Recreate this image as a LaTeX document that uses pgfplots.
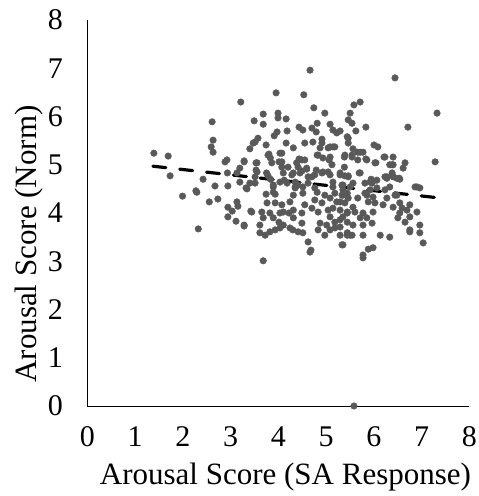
\documentclass[border=0pt]{standalone}
\usepackage{fontspec}
\setmainfont{Liberation Serif}
\usepackage{pgfplots}
\pgfplotsset{compat=1.18}
\definecolor{ptgrey}{HTML}{595959}
\begin{document}
\begin{tikzpicture}
\begin{axis}[
  scale only axis, width=382pt, height=386pt,
  xmin=0, xmax=8, ymin=0, ymax=8,
  axis x line*=bottom, axis y line*=left,
  axis line style={black, line width=0.8pt},
  xtick={0,1,...,8}, ytick={0,1,...,8},
  major tick length=0pt,
  tick label style={font=\fontsize{30}{34}\selectfont},
  /pgf/number format/assume math mode=true,
  xticklabel style={yshift=-17pt},
  yticklabel style={xshift=-21pt},
  xlabel={Arousal Score (SA Response)},
  ylabel={Arousal Score (Norm)},
  label style={font=\fontsize{31}{35}\selectfont},
  xlabel style={yshift=-9pt, xshift=7pt},
  ylabel style={yshift=-2pt, xshift=-31pt},
  clip=false,
]
\addplot[only marks, mark=*, mark size=3.3pt, color=ptgrey, mark options={draw=ptgrey, fill=ptgrey}] coordinates {
(1.39,5.24) (1.69,5.18) (1.73,4.77) (1.99,4.35) (2.27,4.46) (2.42,4.70) (2.67,4.56) (2.59,5.37) (2.63,5.26) (2.61,5.89) (2.63,5.51) (2.92,5.10) (2.88,5.06) (2.93,4.83) (2.94,4.56) (3.13,4.83) (3.19,4.93) (3.28,5.06) (3.34,4.50) (3.40,4.62) (3.47,5.45) (3.40,5.33) (3.55,5.04) (3.55,4.85) (3.51,4.62) (3.74,5.41) (3.75,4.83) (3.78,5.20) (3.86,5.04) (3.83,4.70) (3.89,4.54) (3.93,4.39) (4.03,5.24) (4.07,5.06) (4.16,5.45) (4.12,4.68) (4.20,4.95) (4.31,5.35) (4.31,4.83) (4.35,4.54) (4.38,5.04) (3.21,6.30)
(2.29,4.43) (2.55,4.23) (2.73,4.29) (3.13,4.23) (2.94,4.12) (3.03,4.04) (3.15,4.14) (2.94,3.92) (3.11,3.83) (3.28,3.73) (3.44,4.02) (2.32,3.67) (3.19,4.64)
(4.66,6.96) (3.95,6.49) (4.53,6.45) (4.74,6.18) (4.97,6.07) (3.68,6.05) (3.99,6.07) (3.99,5.97) (4.16,5.95) (3.49,5.91) (3.68,5.84) (4.81,5.86) (5.08,5.84) (5.46,5.93) (4.43,5.78) (4.51,5.72) (4.70,5.76) (4.79,5.68) (5.14,5.72) (5.22,5.66) (3.97,5.68) (4.18,5.70) (3.91,5.60) (5.44,5.58) (3.57,5.55) (3.51,5.47) (4.72,5.47) (4.91,5.53) (4.07,5.24) (4.87,5.35) (5.04,5.35) (5.14,5.37) (4.83,5.20) (3.80,5.22) (3.83,5.14) (5.38,5.16) (3.28,5.08) (3.53,5.04) (4.01,5.06) (4.43,5.12) (4.55,5.10) (5.06,5.10) (5.12,5.00) (5.38,4.95) (3.53,4.89) (4.07,4.95) (4.10,4.83) (4.41,4.95) (4.49,4.87) (4.59,4.91) (4.79,4.89) (4.91,4.83) (5.04,4.85) (4.76,4.79) (5.29,4.79) (3.78,4.77) (4.28,4.79) (4.62,4.75)
(6.44,6.80) (5.71,6.30) (5.58,6.24) (7.32,6.07) (5.50,6.07) (5.54,5.86) (6.71,5.78) (5.83,5.78) (5.29,5.70) (5.62,5.70) (5.46,5.55) (6.00,5.41) (6.08,5.37) (5.56,5.33) (5.66,5.26) (5.77,5.26) (5.54,5.16) (5.66,5.10) (5.83,5.12) (6.21,5.16) (6.40,5.16) (6.65,5.04) (7.28,5.06) (6.04,5.04) (6.33,5.00) (6.40,5.00) (6.61,4.93) (5.29,4.83) (5.46,4.77) (5.69,4.83) (5.94,4.70) (6.27,4.72) (6.40,4.75) (6.53,4.72)
(4.55,5.45) (4.91,5.45) (5.08,5.37) (5.18,5.37) (5.46,5.45) (4.49,5.10) (4.81,5.20) (4.93,5.14) (5.08,5.16) (5.39,5.20) (5.54,5.20) (5.71,5.26) (5.85,5.10) (6.02,5.04) (6.23,5.16) (6.38,5.00) (4.45,4.83) (4.59,4.93) (4.70,4.75) (4.93,4.85) (5.08,4.79) (5.46,4.75) (5.71,4.83) (5.92,4.64) (6.06,4.68) (6.27,4.75) (6.38,4.83) (6.48,4.72) (6.86,4.54) (4.35,4.64) (5.14,4.54) (5.35,4.48) (5.50,4.54) (5.85,4.37) (6.33,4.54) (6.48,4.37) (4.51,4.54) (4.76,4.52)
(3.32,4.52) (3.42,4.04) (3.28,3.75) (3.68,3.01) (3.74,4.39) (3.76,4.21) (3.93,4.21) (3.82,4.00) (3.65,4.02) (3.68,3.90) (3.89,3.90) (4.03,4.00) (4.07,4.17) (3.61,3.75) (3.61,3.59) (3.72,3.54) (3.82,3.61) (3.93,3.65) (4.03,3.69) (4.10,3.75) (4.01,3.81) (4.24,3.69) (4.30,3.65) (4.41,3.61) (4.51,3.59) (4.49,3.79) (4.62,3.40) (4.68,3.23) (4.10,4.02) (4.22,4.00) (4.31,4.06) (4.24,4.23) (4.31,4.37) (4.35,4.52) (4.41,4.58) (4.51,4.41) (4.55,4.17) (4.70,4.10) (4.76,4.27) (4.81,4.43) (4.91,4.21) (4.83,4.02) (4.87,3.79) (5.01,3.75) (4.83,3.65) (4.97,3.54) (5.08,3.65) (5.18,3.69) (5.29,3.71) (5.18,3.81) (5.29,3.86) (5.08,3.92) (5.04,4.06) (5.14,4.10) (5.29,4.06) (5.44,4.02) (5.39,4.21) (5.22,4.23) (5.08,4.31) (4.97,4.37) (5.18,4.41) (5.33,4.37) (5.44,4.41) (5.33,4.58) (5.14,4.64) (4.62,4.62) (4.18,4.62) (4.03,4.64) (3.89,4.58) (3.89,4.43) (3.51,4.75) (5.33,3.34) (5.29,3.54) (5.44,3.59) (4.49,4.00) (4.31,3.90)
(5.39,4.77) (6.23,4.75) (6.38,4.79) (6.54,4.70) (6.90,4.54) (6.96,4.52) (5.35,4.58) (5.56,4.62) (5.81,4.62) (5.96,4.62) (5.92,4.48) (6.06,4.52) (6.23,4.48) (6.44,4.37) (6.27,4.31) (5.35,4.37) (5.46,4.31) (5.29,4.23) (5.66,4.31) (5.81,4.41) (5.98,4.33) (5.88,4.23) (6.02,4.21) (6.19,4.17) (6.40,4.12) (6.54,4.21) (6.59,4.10) (6.69,4.06) (6.90,4.02) (6.75,4.17) (5.56,4.12) (5.60,4.02) (5.77,4.00) (5.98,4.02) (5.71,3.90) (5.85,3.90) (5.96,3.79) (5.44,4.00) (5.44,3.81) (5.35,3.92) (5.56,3.75) (5.77,3.75) (6.54,4.00) (6.50,3.90) (6.65,3.81) (6.75,3.92) (6.96,3.75) (6.75,3.65) (6.96,3.59) (7.03,3.38) (6.13,3.54) (6.33,3.50) (5.44,3.54) (5.54,3.54) (5.77,3.54) (5.35,3.34) (5.77,3.13) (5.77,3.07) (5.88,3.25) (5.98,3.28)
(4.66,3.19) (5.50,3.54) (6.75,3.61) (5.58,0)
};
\addplot[black, line width=3.2pt, line cap=round, dash pattern=on 13pt off 14pt] coordinates {(1.37,4.97) (7.30,4.32)};
\end{axis}
\pgfresetboundingbox
\path (current axis.south west) ++(-87.5pt,-90pt) coordinate (bl);
\path (current axis.north east) ++(9.5pt,20pt) coordinate (tr);
\useasboundingbox (bl) rectangle (tr);
\end{tikzpicture}
\end{document}
